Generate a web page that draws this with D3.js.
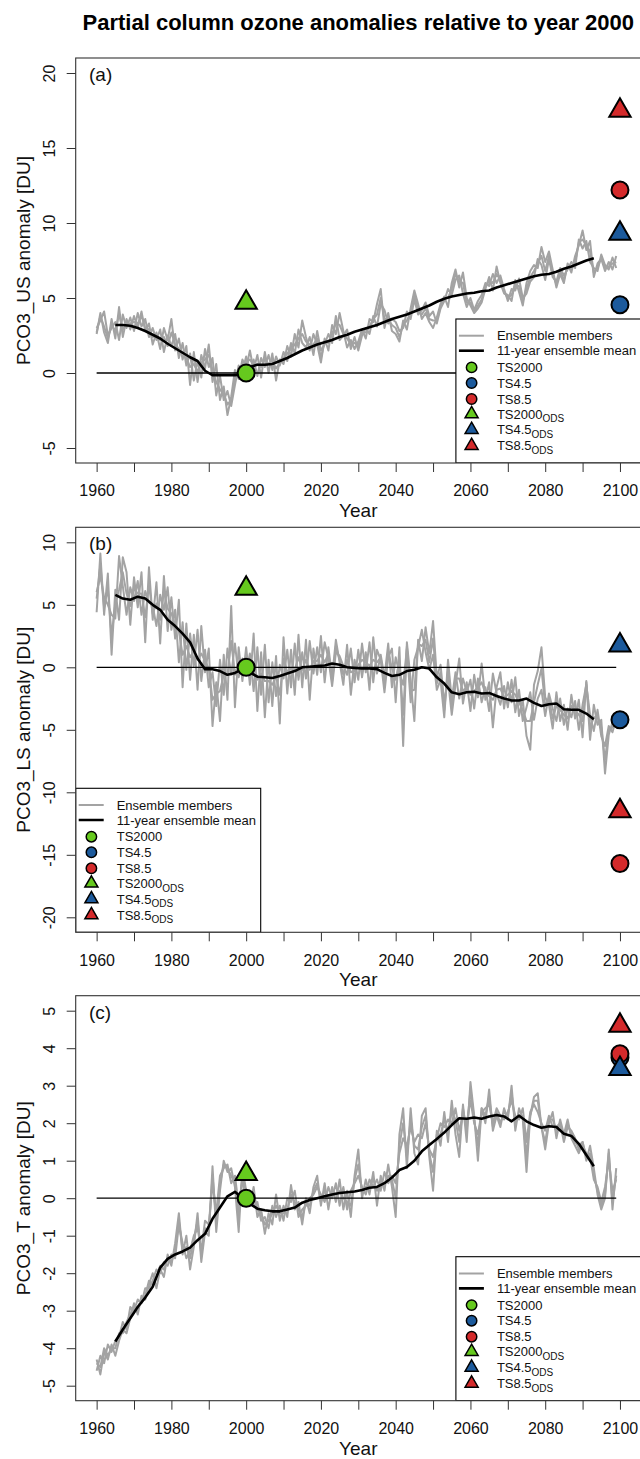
<!DOCTYPE html>
<html>
<head>
<script src="https://d3js.org/d3.v7.min.js"></script>
<style>
	body, html {
		margin: 0;
		padding: 0;
		background: #fff;
		font-family: "Liberation Sans", Arial, Helvetica, sans-serif;
	}
	.title { font-size: 22px; font-weight: bold; text-anchor: middle; }
	.axis-title { font-size: 19px; text-anchor: middle; fill: #111; }
	.panel-label { font-size: 19px; fill: #111; }
	.tick text { font-size: 16px; fill: #111; font-family: "Liberation Sans", Arial, sans-serif; }
	.tick line { stroke: #333; }
	.legend-text { font-size: 13px; fill: #111; }
</style>
</head>
<body>
<script>

// ---- data ----
var memberYears = d3.range(1960, 2100);          // annual, 1960-2099
var meanYears = d3.range(1965, 2094, 2);         // 11-yr running mean, every 2nd year
var refLineYears = [1960, 2099];

var yearTicks = [1960, 1970, 1980, 1990, 2000, 2010, 2020, 2030, 2040, 2050, 2060, 2070, 2080, 2090, 2100];
var yearLabels = [1960, 1980, 2000, 2020, 2040, 2060, 2080, 2100];

var usTicks = [-5, 0, 5, 10, 15, 20];
var lsTicks = [-20, -15, -10, -5, 0, 5, 10];
var tTicks = [-5, -4, -3, -2, -1, 0, 1, 2, 3, 4, 5];
var usLimits = [-5, 20];
var lsLimits = [-20, 10];
var tLimits = [-5, 5];

var scenarioNames = ["TS2000", "TS4.5", "TS8.5", "TS2000", "TS4.5", "TS8.5"];
var scenarioSubs = ["", "", "", "ODS", "ODS", "ODS"];
var scenarioShapes = ["circle", "circle", "circle", "triangle", "triangle", "triangle"];
var scenarioColors = ["#66c91e", "#1c5a9c", "#d42a2b", "#66c91e", "#1c5a9c", "#d42a2b"];
var scenarioYears = [2000, 2100, 2100, 2000, 2100, 2100];

var usMarkers = [0, 4.55, 12.2, 4.7, 9.3, 17.5];
var lsMarkers = [0, -4.2, -15.7, 6.3, 1.75, -11.5];
var tMarkers = [0, 3.75, 3.85, 0.65, 3.45, 4.6];

// (a) upper stratosphere
var usMember1 = [
	2.6, 4.0, 2.7, 2.0, 3.6, 2.3, 4.4, 2.4, 3.6, 2.9,
	3.8, 3.0, 4.1, 2.8, 3.3, 1.9, 2.7, 1.6, 3.0, 2.2,
	3.6, 1.5, 2.3, 0.9, 1.8, -0.8, 1.4, -0.6, 1.2, 0.3,
	1.9, -0.6, 0.6, -1.8, -0.9, -2.8, -1.6, 0.2, -0.4, 0.9,
	0.3, 1.5, 0.2, 1.2, -0.3, 1.4, 0.0, 1.3, -0.5, 0.9,
	0.6, 1.8, 1.1, 2.6, 1.7, 3.5, 2.4, 1.5, 2.6, 1.9,
	0.7, 2.3, 1.5, 3.2, 2.6, 4.0, 2.8, 1.7, 2.2, 1.6,
	2.1, 2.9, 2.3, 3.6, 3.4, 4.6, 5.6, 3.0, 4.0, 2.8,
	2.6, 2.1, 3.5, 2.9, 4.3, 5.5, 4.6, 3.6, 4.0, 3.4,
	3.0, 3.7, 4.6, 5.1, 4.4, 6.0, 6.9, 5.7, 6.7, 5.0,
	4.5, 4.0, 4.3, 4.7, 5.6, 6.4, 5.5, 7.1, 6.0, 5.3,
	5.2, 4.8, 6.2, 5.4, 4.5, 6.0, 6.8, 7.2, 7.0, 8.4,
	7.4, 8.1, 6.9, 5.7, 6.6, 6.0, 7.3, 6.7, 7.8, 8.5,
	9.5, 8.2, 8.8, 6.4, 7.3, 7.6, 6.8, 7.4, 6.9, 7.8];
var usMember2 = [
	3.0, 3.5, 4.1, 2.5, 3.0, 3.4, 2.2, 3.9, 3.0, 3.7,
	2.8, 4.0, 3.1, 3.6, 2.4, 3.0, 2.2, 2.9, 1.4, 2.5,
	1.8, 2.6, 1.0, 2.0, 0.5, 1.3, -0.5, 0.8, -0.3, 1.6,
	0.4, 1.0, -1.5, -0.2, -1.8, -1.2, -2.2, -0.8, 0.5, 0.1,
	1.1, 0.2, 0.9, -0.2, 1.0, 0.4, 1.2, 0.2, 1.1, 0.5,
	1.4, 0.8, 2.0, 1.3, 2.9, 2.0, 1.7, 2.4, 1.2, 2.8,
	1.5, 1.9, 2.6, 2.0, 3.8, 2.2, 2.5, 2.9, 1.6, 2.4,
	1.5, 2.5, 3.0, 2.6, 3.8, 3.1, 4.6, 4.2, 3.3, 3.6,
	3.4, 2.8, 3.0, 4.1, 3.6, 4.9, 3.9, 4.2, 4.7, 3.8,
	4.1, 3.3, 4.3, 4.8, 5.6, 5.2, 6.2, 6.5, 5.3, 4.4,
	5.0, 4.2, 4.8, 5.2, 6.0, 5.8, 6.6, 6.0, 6.5, 5.6,
	4.8, 5.6, 5.5, 6.3, 5.0, 5.3, 6.1, 6.4, 7.6, 7.2,
	6.2, 7.6, 6.4, 6.1, 7.0, 6.5, 6.9, 7.4, 7.0, 8.9,
	8.3, 8.8, 7.4, 7.0, 6.8, 7.9, 7.2, 6.9, 7.7, 7.0];
var usMember3 = [
	2.7, 3.8, 3.1, 2.3, 3.2, 2.8, 3.9, 2.9, 3.3, 3.3,
	3.4, 3.3, 3.8, 3.0, 2.9, 2.4, 2.5, 2.2, 2.4, 1.8,
	2.7, 1.9, 1.6, 1.4, 1.0, 0.4, 0.6, 0.1, 0.7, 0.9,
	1.2, 0.2, -0.6, -1.1, -1.4, -2.1, -1.8, -0.3, 0.0, 0.6,
	0.7, 0.9, 0.5, 0.6, 0.4, 0.9, 0.6, 0.8, 0.3, 0.7,
	1.0, 1.3, 1.6, 1.9, 2.3, 2.6, 2.1, 1.9, 1.9, 2.3,
	1.0, 2.1, 2.0, 2.6, 3.3, 3.2, 2.6, 2.3, 1.9, 2.0,
	1.8, 2.7, 2.7, 3.1, 3.6, 3.9, 5.0, 3.6, 3.6, 3.2,
	3.0, 2.4, 3.2, 3.5, 4.0, 5.2, 4.2, 3.9, 4.3, 3.6,
	3.5, 3.5, 4.4, 5.0, 5.0, 5.6, 6.6, 6.1, 6.0, 4.7,
	4.7, 4.1, 4.5, 4.9, 5.8, 6.1, 6.0, 6.6, 6.2, 5.4,
	5.0, 5.2, 5.8, 5.8, 4.8, 5.6, 6.4, 6.8, 7.3, 7.8,
	6.8, 7.8, 6.6, 5.9, 6.8, 6.2, 7.1, 7.0, 7.4, 8.7,
	8.9, 8.5, 8.1, 6.7, 7.0, 7.7, 7.0, 7.1, 7.3, 7.4];
var usMean = [
	3.2, 3.2, 3.15, 3.0, 2.8, 2.55, 2.3, 1.95, 1.65, 1.35,
	1.05, 0.8, 0.15, -0.15, -0.15, -0.15, -0.15, -0.1, 0.4, 0.55,
	0.55, 0.6, 0.8, 1.0, 1.25, 1.5, 1.7, 1.9, 2.05, 2.2,
	2.4, 2.55, 2.75, 2.9, 3.05, 3.2, 3.4, 3.6, 3.75, 3.9,
	4.1, 4.3, 4.5, 4.75, 4.95, 5.1, 5.2, 5.3, 5.35, 5.45,
	5.5, 5.7, 5.85, 6.0, 6.15, 6.3, 6.45, 6.55, 6.6, 6.75,
	6.95, 7.1, 7.3, 7.5, 7.65];

// (b) lower stratosphere
var lsMember1 = [
	4.4, 9.1, 4.2, 7.5, 1.0, 6.2, 3.8, 8.8, 7.6, 3.4,
	7.2, 4.8, 7.6, 2.0, 8.0, 3.8, 6.8, 1.9, 7.3, 2.9,
	5.6, 2.3, 5.4, -1.6, 3.5, -1.0, 2.6, -1.8, 3.3, -0.4,
	1.5, -4.7, -1.2, -4.3, 1.0, -2.6, 4.9, -3.2, 1.6, -1.1,
	1.6, -1.4, 2.7, -3.5, 1.2, -4.0, 0.6, -3.1, 0.9, -4.5,
	2.4, -2.1, 1.4, -2.2, 2.6, -1.6, 2.2, -2.6, 1.5, -0.6,
	2.5, -1.2, 1.6, -0.8, 2.2, 0.4, -1.4, 1.8, -2.2, 0.6,
	-1.0, 1.9, -0.4, 2.0, -1.2, 1.4, 0.6, -2.0, 0.8, 1.5,
	-2.8, 1.6, -6.3, 2.0, -1.0, -4.3, 2.2, 0.5, 3.2, 1.1,
	3.7, -0.8, 0.2, -2.8, -1.0, -3.8, -1.4, 0.7, -2.9, -1.2,
	-3.5, -0.6, -2.4, 0.3, -2.6, -1.2, -4.8, -1.6, -0.4, -3.3,
	-1.2, -2.8, -0.8, -3.9, -2.6, -5.5, -6.6, -1.4, -0.3, 1.6,
	-2.4, -3.0, -4.9, -2.0, -4.3, -3.0, -5.0, -2.2, -4.1, -2.6,
	-5.6, -1.1, -5.8, -3.0, -4.6, -4.2, -8.5, -5.4, -4.4, -4.8];
var lsMember2 = [
	6.0, 7.3, 5.6, 5.0, 4.2, 3.9, 8.9, 6.5, 4.2, 6.4,
	5.3, 6.9, 4.2, 6.1, 5.2, 4.9, 3.3, 5.8, 4.6, 6.4,
	3.0, 4.6, 0.4, 3.6, -0.2, 2.7, 0.1, 3.0, -1.1, 1.4,
	-1.6, -0.4, -3.1, 0.6, -2.2, 1.5, -0.6, 1.9, -0.8, 0.7,
	-0.4, 1.1, -1.9, 1.6, -2.2, 1.8, -2.8, 0.4, -2.3, 0.2,
	-0.9, 1.4, -1.6, 1.9, -1.0, 1.2, -0.9, 2.1, -0.5, 1.6,
	-0.4, 2.0, 0.7, -1.5, 1.2, 0.9, 0.1, -0.6, 1.5, -1.2,
	1.4, -0.8, 1.2, -1.8, 2.4, -0.5, 1.0, -0.8, 1.9, -1.6,
	0.8, -0.5, -1.4, 1.5, -2.8, 0.6, 1.6, 3.0, 1.2, -0.2,
	1.0, -1.8, -1.0, -4.0, 0.6, -2.6, -0.4, -2.5, -0.9, -2.0,
	-1.0, -3.3, -0.9, -2.8, -1.6, -3.5, -0.5, -2.1, -3.0, -1.5,
	-3.2, -1.0, -3.6, -1.8, -4.3, -3.2, -2.0, -4.2, -2.5, -1.8,
	-3.9, -2.1, -3.3, -4.3, -2.5, -4.6, -3.3, -4.0, -2.7, -5.0,
	-3.0, -1.4, -3.8, -5.1, -3.4, -5.5, -6.3, -4.7, -5.2, -4.1];
var lsMember3 = [
	5.5, 8.2, 4.8, 6.3, 2.5, 5.1, 6.2, 7.6, 5.9, 4.9,
	6.3, 5.9, 5.9, 4.0, 6.6, 4.3, 5.1, 3.8, 6.1, 4.7,
	4.3, 3.4, 2.9, 1.0, 1.7, 0.8, 1.3, 0.6, 1.1, 0.5,
	-0.1, -2.6, -2.1, -1.9, -0.6, -0.6, 2.1, -0.6, 0.4, -0.2,
	0.6, -0.2, 0.4, -1.0, -0.5, -1.1, -1.1, -1.4, -0.7, -2.2,
	0.7, -0.4, -0.1, -0.2, 0.8, -0.2, 0.6, -0.2, 0.5, 0.5,
	1.0, 0.4, 1.1, -1.1, 1.7, 0.6, -0.6, 0.6, -0.4, -0.3,
	0.2, 0.6, 0.4, 0.1, 0.6, 0.4, 0.8, -1.4, 1.3, -0.1,
	-1.0, 0.5, -3.8, 1.7, -1.9, -1.8, 1.9, 1.7, 2.2, 0.4,
	2.3, -1.3, -0.4, -3.4, -0.2, -3.2, -0.9, -0.9, -1.9, -1.6,
	-2.2, -1.9, -1.6, -1.2, -2.1, -2.3, -2.6, -1.8, -1.7, -2.4,
	-2.2, -1.9, -2.2, -2.8, -3.4, -4.3, -4.3, -2.8, -1.4, -0.1,
	-3.1, -2.5, -4.1, -3.1, -3.4, -3.8, -4.1, -3.1, -3.4, -3.8,
	-4.3, -1.2, -4.8, -4.0, -4.0, -4.8, -7.4, -5.0, -4.8, -4.4];
var lsMean = [
	5.8, 5.5, 5.4, 5.65, 5.5, 5.0, 4.6, 3.8, 3.3, 2.7,
	2.0, 0.7, -0.15, -0.15, -0.3, -0.6, -0.45, -0.15, -0.4, -0.75,
	-0.8, -0.85, -0.7, -0.5, -0.3, 0.0, 0.05, 0.1, 0.15, 0.3,
	0.2, 0.0, -0.05, -0.1, -0.1, -0.15, -0.45, -0.7, -0.6, -0.3,
	-0.2, 0.0, -0.1, -0.8, -1.3, -2.0, -2.15, -2.0, -1.95, -2.1,
	-2.05, -2.3, -2.5, -2.65, -2.65, -2.5, -2.85, -3.1, -2.95, -2.9,
	-3.35, -3.4, -3.4, -3.7, -4.15];

// (c) troposphere
var tMember1 = [
	-4.3, -4.7, -4.1, -4.3, -3.9, -4.2, -3.8, -3.5, -3.6, -3.2,
	-2.8, -3.1, -2.6, -2.7, -2.3, -2.0, -2.4, -1.9, -2.1, -1.5,
	-1.8, -1.2, -0.4, -1.5, -1.0, -1.9, -1.3, -0.4, -1.7, -0.9,
	-1.0, 0.85, -0.9, 0.2, 1.0, 0.7, 0.8, 0.3, -0.9, 0.8,
	0.2, -0.2, 0.3, -0.5, -0.3, -0.95, -0.4, -0.7, 0.1, -0.6,
	-0.2, -0.5, 0.35, -0.3, -0.1, -0.7, 0.0, -0.4, 0.3, 0.6,
	-0.2, 0.4, -0.3, 0.3, -0.1, 0.5, -0.3, 0.2, -0.5, 0.6,
	1.3, 0.0, 0.5, 0.1, 0.7, -0.2, 0.6, 0.2, 0.9, 0.3,
	-0.5, 1.7, 2.4, 0.8, 2.4, 1.2, 0.9, 2.2, 2.4, 1.1,
	0.2, 1.8, 1.4, 2.3, 1.5, 2.6, 1.7, 1.1, 2.5, 1.5,
	3.1, 2.2, 1.0, 2.4, 2.0, 2.9, 1.8, 2.2, 1.9, 2.4,
	2.1, 3.0, 1.8, 2.4, 2.1, 0.7, 2.2, 2.7, 2.8, 1.9,
	1.3, 2.0, 2.3, 1.6, 2.1, 1.7, 2.1, 1.6, 1.4, 1.2,
	1.5, 1.0, 1.4, 0.8, 0.1, -0.3, 0.0, 1.3, -0.3, 0.8];
var tMember2 = [
	-4.6, -4.2, -4.4, -3.9, -4.1, -3.8, -3.7, -3.3, -3.5, -2.9,
	-3.0, -2.7, -2.8, -2.4, -2.4, -2.2, -1.9, -2.0, -1.7, -1.8,
	-1.5, -1.6, -0.7, -1.2, -1.6, -1.4, -1.0, -0.8, -1.4, -0.6,
	-0.7, 0.4, -0.4, 0.6, 0.8, 0.9, 0.4, 0.6, -0.2, 0.5,
	-0.1, 0.2, -0.2, -0.1, -0.6, -0.5, -0.8, -0.2, -0.5, -0.2,
	-0.6, 0.0, -0.1, 0.2, -0.5, -0.3, -0.2, 0.0, 0.1, 0.3,
	0.1, -0.1, 0.3, 0.0, 0.4, -0.2, 0.3, -0.3, 0.2, 0.4,
	0.6, 0.3, 0.1, 0.5, 0.3, 0.5, 0.2, 0.7, 0.4, 0.6,
	0.4, 1.2, 1.6, 1.4, 1.9, 1.5, 1.7, 1.6, 2.0, 1.3,
	1.1, 1.6, 2.0, 1.9, 2.1, 2.0, 2.4, 1.8, 2.2, 2.0,
	2.6, 2.0, 1.7, 2.3, 2.4, 2.5, 2.0, 2.4, 2.2, 2.1,
	2.3, 2.6, 2.2, 2.1, 2.4, 1.5, 2.3, 2.5, 2.3, 2.0,
	1.8, 2.2, 1.9, 1.9, 2.0, 1.5, 1.9, 1.8, 1.6, 1.3,
	1.4, 1.2, 1.1, 0.5, 0.3, -0.1, 0.3, 1.0, 0.2, 0.5];
var tMember3 = [
	-4.4, -4.5, -4.0, -4.2, -4.0, -4.0, -3.6, -3.6, -3.3, -3.1,
	-2.9, -2.9, -2.7, -2.6, -2.2, -2.3, -2.1, -1.8, -1.9, -1.6,
	-1.7, -1.4, -0.6, -1.4, -1.3, -1.6, -1.1, -0.6, -1.5, -0.8,
	-0.9, 0.6, -0.6, 0.4, 0.9, 0.8, 0.6, 0.4, -0.5, 0.6,
	0.0, 0.0, 0.1, -0.3, -0.4, -0.7, -0.6, -0.4, -0.2, -0.4,
	-0.4, -0.3, 0.1, -0.1, -0.3, -0.5, -0.1, -0.2, 0.2, 0.4,
	-0.1, 0.2, 0.0, 0.2, 0.1, 0.2, 0.0, -0.1, -0.2, 0.5,
	0.9, 0.2, 0.3, 0.3, 0.5, 0.2, 0.4, 0.4, 0.6, 0.5,
	0.0, 1.4, 2.0, 1.1, 2.1, 1.4, 1.3, 1.9, 2.2, 1.2,
	0.7, 1.7, 1.7, 2.1, 1.8, 2.3, 2.1, 1.5, 2.4, 1.8,
	2.9, 2.1, 1.4, 2.4, 2.2, 2.7, 1.9, 2.3, 2.0, 2.3,
	2.2, 2.8, 2.0, 2.2, 2.2, 1.1, 2.2, 2.6, 2.6, 1.9,
	1.5, 2.1, 2.1, 1.8, 2.0, 1.6, 2.0, 1.7, 1.5, 1.4,
	1.5, 1.1, 1.2, 0.6, 0.2, -0.2, 0.1, 1.2, -0.1, 0.6];
var tMean = [
	-3.82, -3.5, -3.2, -2.9, -2.65, -2.36, -1.85, -1.62, -1.5, -1.42,
	-1.32, -1.12, -0.95, -0.55, -0.25, 0.05, 0.17, 0.0, -0.15, -0.28,
	-0.32, -0.35, -0.35, -0.3, -0.25, -0.12, -0.05, 0.0, 0.05, 0.1,
	0.14, 0.16, 0.18, 0.22, 0.28, 0.3, 0.4, 0.55, 0.75, 0.83,
	1.0, 1.25, 1.42, 1.58, 1.75, 1.95, 2.13, 2.12, 2.15, 2.12,
	2.18, 2.22, 2.18, 2.05, 2.2, 2.05, 1.95, 1.88, 1.92, 1.9,
	1.72, 1.66, 1.45, 1.15, 0.85];

// ---- layout ----
var W = 640, H = 1459;
var plotLeft = 75.7, plotRight = 640.9, plotH = 405;
var panelTops = [58, 527.3, 995.7];
var memberColor = "#a3a3a3";
var legendW = 185, legendH = 144;
var legendRows = [16.7, 31.7, 48.4, 64, 80, 95, 110.7, 126.7];

var panels = [
	{label: "(a)", ytitle: "PCO3_US anomaly [DU]", limits: usLimits, ticks: usTicks,
	 members: [usMember1, usMember2, usMember3], mean: usMean, markers: usMarkers, legendLeft: false},
	{label: "(b)", ytitle: "PCO3_LS anomaly [DU]", limits: lsLimits, ticks: lsTicks,
	 members: [lsMember1, lsMember2, lsMember3], mean: lsMean, markers: lsMarkers, legendLeft: true},
	{label: "(c)", ytitle: "PCO3_T anomaly [DU]", limits: tLimits, ticks: tTicks,
	 members: [tMember1, tMember2, tMember3], mean: tMean, markers: tMarkers, legendLeft: false}
];

var svg = d3.select("body").append("svg")
	.attr("width", W)
	.attr("height", H);

svg.append("text")
	.attr("class", "title")
	.attr("x", (plotLeft + plotRight) / 2)
	.attr("y", 30)
	.text("Partial column ozone anomalies relative to year 2000");

var x = d3.scaleLinear()
	.domain([1960 - 0.04 * 140, 2100 + 0.04 * 140])
	.range([plotLeft, plotRight]);

function triPath(r) {
	var h = r * Math.sqrt(3) / 2;
	return "M0," + (-r) + "L" + h + "," + (r / 2) + "L" + (-h) + "," + (r / 2) + "Z";
}

function drawSymbol(g, shape, color, cx, cy, size, sw) {
	if (shape === "circle") {
		g.append("circle")
			.attr("cx", cx).attr("cy", cy).attr("r", size)
			.attr("fill", color).attr("stroke", "#000").attr("stroke-width", sw);
	} else {
		g.append("path")
			.attr("d", triPath(size * 1.45))
			.attr("transform", "translate(" + cx + "," + cy + ")")
			.attr("fill", color).attr("stroke", "#000").attr("stroke-width", sw)
			.attr("stroke-linejoin", "miter");
	}
}

panels.forEach(function(p, pi) {
	var top = panelTops[pi];
	var bottom = top + plotH;
	var lo = p.limits[0], hi = p.limits[1], ext = 0.04 * (hi - lo);

	var y = d3.scaleLinear()
		.domain([lo - ext, hi + ext])
		.range([bottom, top]);

	var g = svg.append("g");

	svg.append("clipPath").attr("id", "clip" + pi)
		.append("rect")
		.attr("x", plotLeft).attr("y", top)
		.attr("width", plotRight - plotLeft).attr("height", plotH);

	var plot = g.append("g").attr("clip-path", "url(#clip" + pi + ")");

	var memberLine = d3.line()
		.x(function(d, i) { return x(memberYears[i]); })
		.y(function(d) { return y(d); });

	plot.selectAll(".member")
		.data(p.members)
		.enter().append("path")
		.attr("class", "member")
		.attr("d", memberLine)
		.attr("fill", "none")
		.attr("stroke", memberColor)
		.attr("stroke-width", 2)
		.attr("stroke-linejoin", "round");

	plot.append("line")
		.attr("x1", x(refLineYears[0])).attr("x2", x(refLineYears[1]))
		.attr("y1", y(0)).attr("y2", y(0))
		.attr("stroke", "#000").attr("stroke-width", 1.3);

	var meanLine = d3.line()
		.x(function(d, i) { return x(meanYears[i]); })
		.y(function(d) { return y(d); });

	plot.append("path")
		.datum(p.mean)
		.attr("d", meanLine)
		.attr("fill", "none")
		.attr("stroke", "#000")
		.attr("stroke-width", 2.6)
		.attr("stroke-linejoin", "round");

	p.markers.forEach(function(v, i) {
		drawSymbol(plot, scenarioShapes[i], scenarioColors[i], x(scenarioYears[i]), y(v), 8.5, 2);
	});

	// legend
	var lx = p.legendLeft ? plotLeft : plotRight - legendW;
	var ly = bottom - legendH;
	var leg = plot.append("g").attr("transform", "translate(" + lx + "," + ly + ")");
	leg.append("rect")
		.attr("width", legendW).attr("height", legendH)
		.attr("fill", "#fff").attr("stroke", "#000").attr("stroke-width", 1.1);

	leg.append("line").attr("x1", 3).attr("x2", 28)
		.attr("y1", legendRows[0]).attr("y2", legendRows[0])
		.attr("stroke", memberColor).attr("stroke-width", 2);
	leg.append("line").attr("x1", 3).attr("x2", 28)
		.attr("y1", legendRows[1]).attr("y2", legendRows[1])
		.attr("stroke", "#000").attr("stroke-width", 2.6);
	leg.append("text").attr("class", "legend-text")
		.attr("x", 41).attr("y", legendRows[0] + 4.7).text("Ensemble members");
	leg.append("text").attr("class", "legend-text")
		.attr("x", 41).attr("y", legendRows[1] + 4.7).text("11-year ensemble mean");

	scenarioNames.forEach(function(name, i) {
		var ry = legendRows[i + 2];
		drawSymbol(leg, scenarioShapes[i], scenarioColors[i], 15.7, ry, 5.2, 1.5);
		var t = leg.append("text").attr("class", "legend-text")
			.attr("x", 41).attr("y", ry + 4.7).text(name);
		if (scenarioSubs[i]) {
			t.append("tspan").attr("dy", 3.6).attr("font-size", "10px").text(scenarioSubs[i]);
		}
	});

	// box
	g.append("rect")
		.attr("x", plotLeft).attr("y", top)
		.attr("width", plotRight - plotLeft).attr("height", plotH)
		.attr("fill", "none").attr("stroke", "#333").attr("stroke-width", 1.1);

	// axes
	var xAxis = g.append("g")
		.attr("transform", "translate(0," + bottom + ")")
		.call(d3.axisBottom(x)
			.tickValues(yearTicks)
			.tickSize(9)
			.tickPadding(13)
			.tickFormat(function(d) { return yearLabels.indexOf(d) >= 0 ? String(d) : ""; }));
	xAxis.select(".domain").remove();

	var yAxis = g.append("g")
		.attr("transform", "translate(" + plotLeft + ",0)")
		.call(d3.axisLeft(y)
			.tickValues(p.ticks)
			.tickSize(9)
			.tickFormat(function(d) { return String(d); }));
	yAxis.select(".domain").remove();
	yAxis.selectAll(".tick text")
		.attr("x", null)
		.attr("dy", null)
		.attr("text-anchor", "middle")
		.attr("transform", "translate(-21,0) rotate(-90)");

	g.append("text")
		.attr("class", "axis-title")
		.attr("x", (plotLeft + plotRight) / 2)
		.attr("y", bottom + 54)
		.text("Year");

	g.append("text")
		.attr("class", "axis-title")
		.attr("transform", "translate(30," + ((top + bottom) / 2) + ") rotate(-90)")
		.text(p.ytitle);

	g.append("text")
		.attr("class", "panel-label")
		.attr("x", 89)
		.attr("y", top + 23)
		.text(p.label);
});

</script>
</body>
</html>
